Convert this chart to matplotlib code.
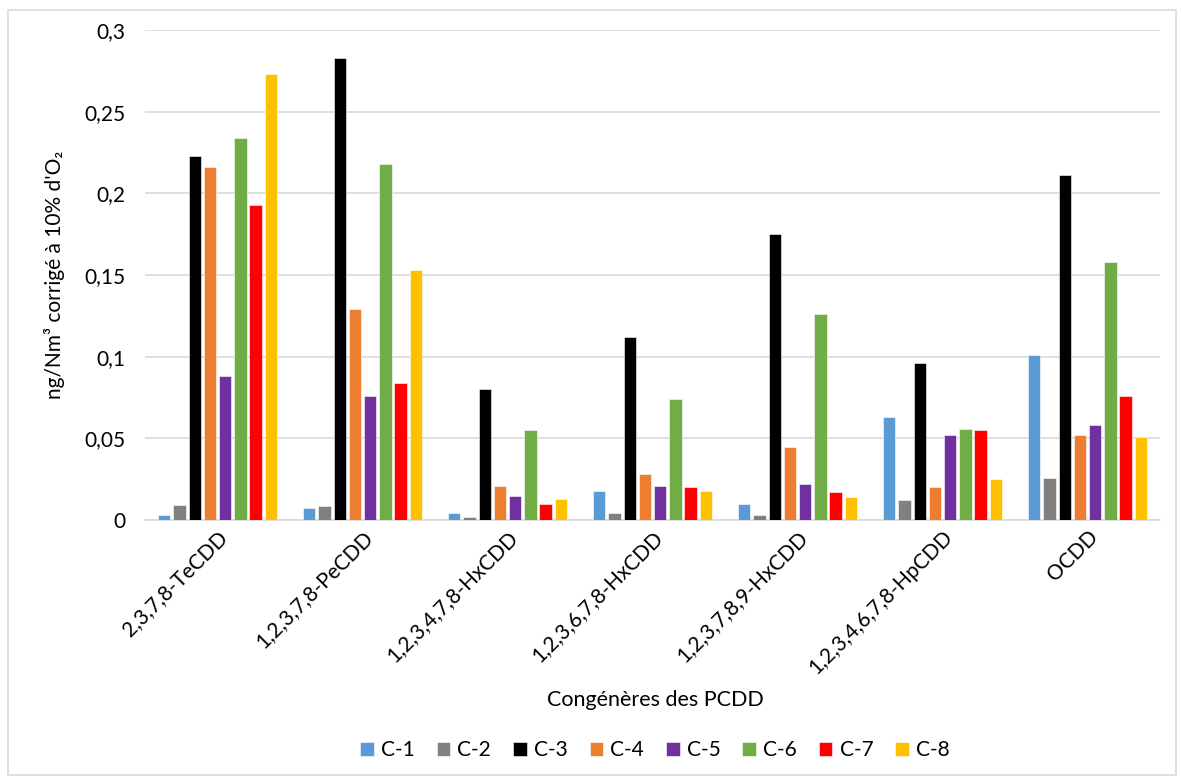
import matplotlib
matplotlib.use("Agg")
import matplotlib.pyplot as plt
from matplotlib.patches import Rectangle
import numpy as np

plt.rcParams['font.family'] = ['Lato', 'DejaVu Sans']

categories = ["2,3,7,8-TeCDD", "1,2,3,7,8-PeCDD", "1,2,3,4,7,8-HxCDD",
              "1,2,3,6,7,8-HxCDD", "1,2,3,7,8,9-HxCDD", "1,2,3,4,6,7,8-HpCDD", "OCDD"]
series_names = ["C-1", "C-2", "C-3", "C-4", "C-5", "C-6", "C-7", "C-8"]
colors = ["#5B9BD5", "#808080", "#000000", "#ED7D31", "#7030A0", "#70AD47", "#FF0000", "#FFC000"]

c1 = [0.003, 0.0075, 0.0045, 0.018, 0.010, 0.063, 0.101]
c2 = [0.009, 0.0085, 0.002, 0.004, 0.0032, 0.012, 0.026]
c3 = [0.223, 0.283, 0.080, 0.112, 0.175, 0.096, 0.211]
c4 = [0.216, 0.129, 0.021, 0.028, 0.045, 0.020, 0.052]
c5 = [0.088, 0.076, 0.015, 0.021, 0.022, 0.052, 0.058]
c6 = [0.234, 0.218, 0.055, 0.074, 0.126, 0.056, 0.158]
c7 = [0.193, 0.084, 0.010, 0.020, 0.017, 0.055, 0.076]
c8 = [0.273, 0.153, 0.013, 0.018, 0.014, 0.025, 0.051]
series = [c1, c2, c3, c4, c5, c6, c7, c8]

yticks = [0, 0.05, 0.1, 0.15, 0.2, 0.25, 0.3]
ytick_labels = ["0", "0,05", "0,1", "0,15", "0,2", "0,25", "0,3"]

fig = plt.figure(figsize=(11.81, 7.78), dpi=100)
ax = fig.add_axes([145/1181, 1 - 520/778, 1015/1181, 490/778])

x = np.arange(len(categories))
step = 0.105
width = 0.085
for i, (name, vals, col) in enumerate(zip(series_names, series, colors)):
    ax.bar(x + (i - 3.5) * step, vals, width, color=col, label=name, zorder=3,
           edgecolor='white', linewidth=0.4)

ax.set_xlim(-0.5, len(categories) - 0.5)
ax.set_ylim(0, 0.3)
ax.set_yticks(yticks)
ax.set_yticklabels(ytick_labels, fontsize=15)
ax.yaxis.grid(True, color="#d9d9d9", linewidth=1.2, zorder=0)
ax.tick_params(axis='y', length=0, pad=14)
ax.tick_params(axis='x', length=0, pad=5)
ax.set_xticks(x)
ax.set_xticklabels(categories, rotation=45, ha='right', rotation_mode='anchor', fontsize=15)
for s in ['top', 'right', 'left']:
    ax.spines[s].set_visible(False)
ax.spines['bottom'].set_color("#d9d9d9")
ax.spines['bottom'].set_linewidth(1.2)

ax.set_ylabel("ng/Nm³ corrigé à 10% d'O₂", fontsize=15, labelpad=14)
fig.text(655/1181, 1 - 700/778, "Congénères des PCDD", ha='center', va='center', fontsize=15.5)

handles, labels = ax.get_legend_handles_labels()
fig.legend(handles, labels, loc='center', bbox_to_anchor=(655/1181, 1 - 750/778), ncol=8,
           frameon=False, fontsize=15, handlelength=0.65, handleheight=0.65,
           handletextpad=0.35, columnspacing=1.05)

fig.add_artist(Rectangle((8/1181, 3/778), 1168/1181, 765/778, transform=fig.transFigure,
                         fill=False, edgecolor="#d9d9d9", linewidth=1.2))

fig.savefig("out.png", dpi=100, facecolor='white')
